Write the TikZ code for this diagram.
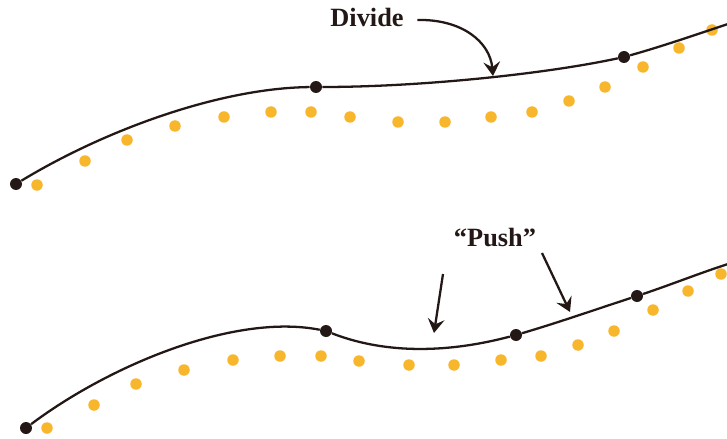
\documentclass[tikz,border=0pt]{standalone}
\usepackage{fontspec}
\setmainfont{Liberation Serif}
\usepackage{xcolor}
\usepackage{tikz}
\usetikzlibrary{arrows.meta}
\definecolor{cink}{HTML}{231815}
\definecolor{corange}{HTML}{F8B62D}
\tikzset{
  bdot/.style={circle,fill=cink,inner sep=0pt,minimum size=12*0.02cm},
  odot/.style={circle,fill=corange,inner sep=0pt,minimum size=11.5*0.02cm},
  curve/.style={draw=cink,line width=1.3pt},
  arr/.style={draw=cink,line width=1.3pt,-{Stealth[length=8pt,width=9.5pt,inset=3pt]}},
  lab/.style={font=\fontsize{15}{18}\selectfont\bfseries,text=cink,inner sep=2pt},
}

\begin{document}
\begin{tikzpicture}[x=0.02cm,y=-0.02cm]
\useasboundingbox (0,0) rectangle (727,439);

% ================= TOP: divide =================
\foreach \x/\y [count=\i] in {37/185,85/161,127/140,175/126,224/117,271/112,311/112,350/117,
  398/122,445/122,491/117,532/112,569/101,605/87,643/67,679/48,712/30}{
  \node[odot] (ta\i) at (\x,\y) {};
}
\node[bdot] (t1) at (16,184) {};
\node[bdot] (t2) at (316,87) {};
\node[bdot] (t3) at (624,57) {};
\coordinate (tend) at (728,24);
\draw[curve] (t1) .. controls (105,130) and (220,88) .. (t2)
  .. controls (420,87) and (545,74) .. (t3)
  .. controls (660,47) and (695,35) .. (tend);

\node[lab] (divide) at (367,17) {Divide};
\coordinate (dtip) at (493,76);
\draw[arr] ([xshift=10*0.02cm,yshift=-3*0.02cm]divide.east) .. controls (462,19) and (490,42) .. (dtip);

% ================= BOTTOM: push =================
\foreach \x/\y [count=\i] in {47/428,94/405,136/384,184/370,233/360,280/356,321/356,359/361,
  409/365,454/365,501/360,541/356,578/345,614/331,653/310,688/291,721/274}{
  \node[odot] (ba\i) at (\x,\y) {};
}
\node[bdot] (b1) at (26,428) {};
\node[bdot] (b2) at (326,331) {};
\node[bdot] (b3) at (516,335) {};
\node[bdot] (b4) at (637,296) {};
\coordinate (bend) at (728,264);
\draw[curve] (b1) .. controls (110,365) and (235,313) .. (b2)
  .. controls (380,352) and (440,355) .. (b3)
  .. controls (560,322) and (600,308) .. (b4)
  .. controls (670,285) and (700,273) .. (bend);

\node[lab] (push) at (495,238) {“Push”};
\coordinate (pl) at (443,274);
\coordinate (pltip) at (434,333);
\coordinate (pr) at (542,253);
\coordinate (prtip) at (570,312);
\draw[arr] (pl) -- (pltip);
\draw[arr] (pr) -- (prtip);

\end{tikzpicture}
\end{document}
